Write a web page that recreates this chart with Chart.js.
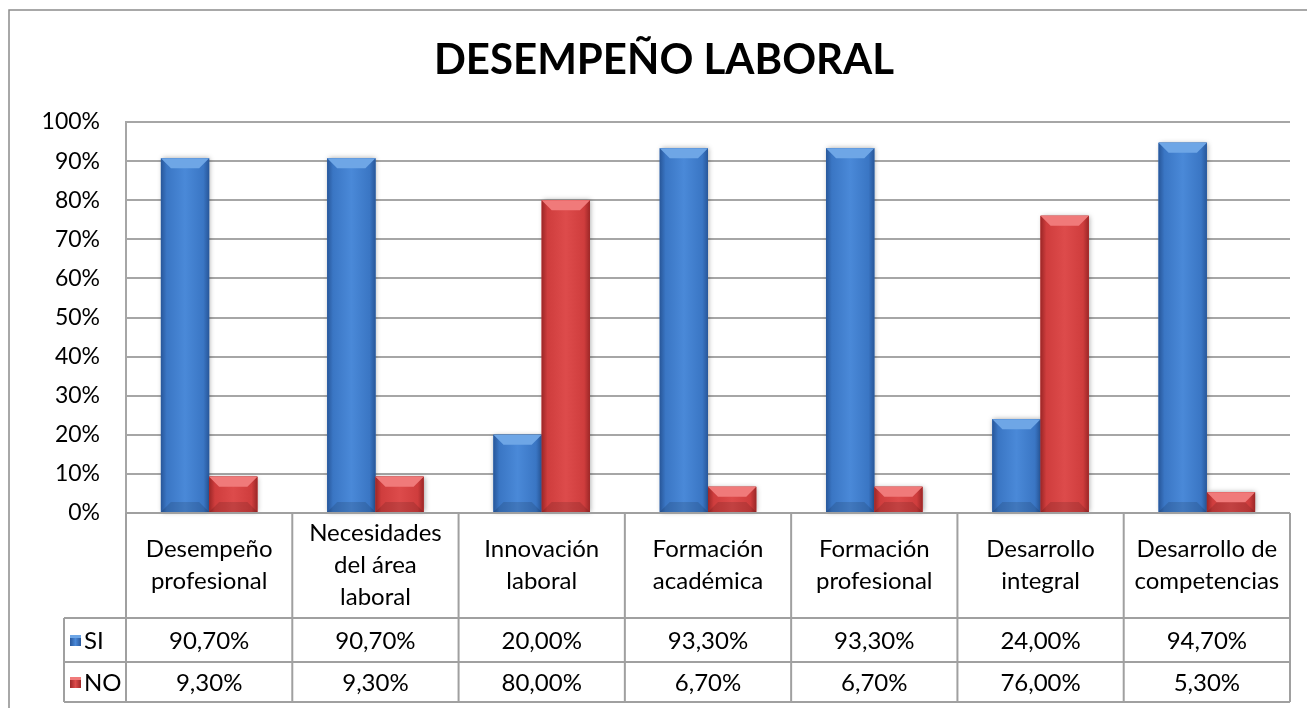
<!DOCTYPE html>
<html>
<head>
<meta charset="utf-8">
<script src="https://cdn.jsdelivr.net/npm/chart.js@4.4.1/dist/chart.umd.min.js"></script>
<style>
  html, body { margin: 0; padding: 0; background: #fff; }
</style>
</head>
<body>
<canvas id="chart" width="1307" height="708"></canvas>
<script>
const titleText = 'DESEMPEÑO LABORAL';
const categories = [
    ['Desempeño', 'profesional'],
    ['Necesidades', 'del área', 'laboral'],
    ['Innovación', 'laboral'],
    ['Formación', 'académica'],
    ['Formación', 'profesional'],
    ['Desarrollo', 'integral'],
    ['Desarrollo de', 'competencias']
];
const seriesNames = ['SI', 'NO'];
const siValues = [90.7, 90.7, 20.0, 93.3, 93.3, 24.0, 94.7];
const noValues = [9.3, 9.3, 80.0, 6.7, 6.7, 76.0, 5.3];

const FONT = 'Lato';
const palette = {
    SI: { base: '#3a76c4', dark: '#28579a', light: '#4a89d8', top: '#6ea6e6' },
    NO: { base: '#cf3d3d', dark: '#9c2727', light: '#dd4b4b', top: '#f07a7a' }
};

function fmt(v) {
    return v.toFixed(2).replace('.', ',') + '%';
}

// outer frame of the chart object
const framePlugin = {
    id: 'frame',
    beforeDraw(chart) {
        const ctx = chart.ctx;
        ctx.save();
        ctx.strokeStyle = '#8c8c8c';
        ctx.lineWidth = 1.5;
        ctx.beginPath();
        ctx.moveTo(9, chart.height);
        ctx.lineTo(9, 10);
        ctx.lineTo(chart.width, 10);
        ctx.stroke();
        ctx.restore();
    }
};

// excel-like bevel on every bar
const bevelPlugin = {
    id: 'bevel',
    afterDatasetsDraw(chart) {
        const ctx = chart.ctx;
        chart.data.datasets.forEach((ds, di) => {
            const c = palette[ds.label];
            chart.getDatasetMeta(di).data.forEach(el => {
                const p = el.getProps(['x', 'y', 'base', 'width'], true);
                const l = p.x - p.width / 2, r = p.x + p.width / 2;
                const t = p.y, b = p.base, w = p.width;
                ctx.save();
                ctx.shadowColor = 'rgba(0,0,0,0.35)';
                ctx.shadowBlur = 5;
                ctx.shadowOffsetX = 1;
                ctx.fillStyle = c.base;
                ctx.fillRect(l, t, w, b - t);
                ctx.restore();

                ctx.save();
                const g = ctx.createLinearGradient(l, 0, r, 0);
                g.addColorStop(0, c.dark);
                g.addColorStop(0.12, c.base);
                g.addColorStop(0.5, c.light);
                g.addColorStop(0.88, c.base);
                g.addColorStop(1, c.dark);
                ctx.fillStyle = g;
                ctx.fillRect(l, t, w, b - t);
                const bv = Math.min(10, (b - t) / 2);
                ctx.fillStyle = c.top;
                ctx.beginPath();
                ctx.moveTo(l, t);
                ctx.lineTo(r, t);
                ctx.lineTo(r - bv, t + bv);
                ctx.lineTo(l + bv, t + bv);
                ctx.closePath();
                ctx.fill();
                ctx.fillStyle = 'rgba(0,0,0,0.12)';
                ctx.beginPath();
                ctx.moveTo(l, b);
                ctx.lineTo(r, b);
                ctx.lineTo(r - bv, b - bv);
                ctx.lineTo(l + bv, b - bv);
                ctx.closePath();
                ctx.fill();
                ctx.restore();
            });
        });
    }
};

// data table under the plot
const tablePlugin = {
    id: 'dataTable',
    afterDraw(chart) {
        const ctx = chart.ctx;
        const xs = chart.scales.x;
        const a = chart.chartArea;
        const n = categories.length;
        const colW = (a.right - a.left) / n;
        const legendLeft = 64;
        const hdrBottom = a.bottom + 105;
        const rowBottoms = [hdrBottom + 44, hdrBottom + 84];
        const rows = [siValues, noValues];

        ctx.save();
        ctx.strokeStyle = '#a0a0a0';
        ctx.lineWidth = 2;
        ctx.beginPath();
        ctx.moveTo(a.left, a.bottom);
        ctx.lineTo(a.right, a.bottom);
        ctx.moveTo(legendLeft, hdrBottom);
        ctx.lineTo(a.right, hdrBottom);
        rowBottoms.forEach(y => {
            ctx.moveTo(legendLeft, y);
            ctx.lineTo(a.right, y);
        });
        for (let i = 0; i <= n; i++) {
            const x = a.left + i * colW;
            ctx.moveTo(x, a.bottom);
            ctx.lineTo(x, rowBottoms[1]);
        }
        ctx.moveTo(legendLeft, hdrBottom);
        ctx.lineTo(legendLeft, rowBottoms[1]);
        ctx.stroke();

        ctx.fillStyle = '#000';
        ctx.font = '24px ' + FONT;
        ctx.textAlign = 'center';
        ctx.textBaseline = 'middle';
        const hdrMid = (a.bottom + hdrBottom) / 2;
        categories.forEach((lines, i) => {
            const cx = xs.getPixelForValue(i);
            const y0 = hdrMid - (lines.length - 1) * 16;
            lines.forEach((s, k) => ctx.fillText(s, cx, y0 + k * 32));
        });

        let top = hdrBottom;
        rows.forEach((vals, r) => {
            const mid = (top + rowBottoms[r]) / 2 + 1;
            vals.forEach((v, i) => ctx.fillText(fmt(v), xs.getPixelForValue(i), mid));
            // legend key + series name
            const c = palette[seriesNames[r]];
            const g = ctx.createLinearGradient(legendLeft + 6, 0, legendLeft + 17, 0);
            g.addColorStop(0, c.dark);
            g.addColorStop(0.5, c.light);
            g.addColorStop(1, c.dark);
            ctx.fillStyle = g;
            ctx.fillRect(legendLeft + 6, mid - 6, 11, 11);
            ctx.fillStyle = c.top;
            ctx.fillRect(legendLeft + 6, mid - 6, 11, 3);
            ctx.fillStyle = '#000';
            ctx.textAlign = 'left';
            ctx.fillText(seriesNames[r], legendLeft + 20, mid);
            ctx.textAlign = 'center';
            top = rowBottoms[r];
        });
        ctx.restore();
    }
};

const chart = new Chart(document.getElementById('chart'), {
    type: 'bar',
    data: {
        labels: categories,
        datasets: [
            { label: seriesNames[0], data: siValues, backgroundColor: palette.SI.base },
            { label: seriesNames[1], data: noValues, backgroundColor: palette.NO.base }
        ]
    },
    options: {
        responsive: false,
        animation: false,
        devicePixelRatio: 1,
        layout: { padding: { top: 10, left: 38, right: 17, bottom: 195 } },
        datasets: {
            bar: { categoryPercentage: 0.58, barPercentage: 1.0 }
        },
        plugins: {
            legend: { display: false },
            tooltip: { enabled: false },
            title: {
                display: true,
                text: titleText,
                color: '#000',
                font: { family: FONT, size: 42, weight: 'bold', lineHeight: 1.2 },
                padding: { top: 25, bottom: 36.6 }
            }
        },
        scales: {
            x: { display: false },
            y: {
                min: 0,
                max: 100,
                ticks: {
                    stepSize: 10,
                    padding: 26,
                    color: '#000',
                    font: { family: FONT, size: 23 },
                    callback: v => v + '%'
                },
                grid: { color: '#a6a6a6', lineWidth: 2, drawTicks: false },
                border: { color: '#a6a6a6', width: 2 },
                afterFit(scale) { scale.width = 88; }
            }
        }
    },
    plugins: [framePlugin, bevelPlugin, tablePlugin]
});
</script>
</body>
</html>
